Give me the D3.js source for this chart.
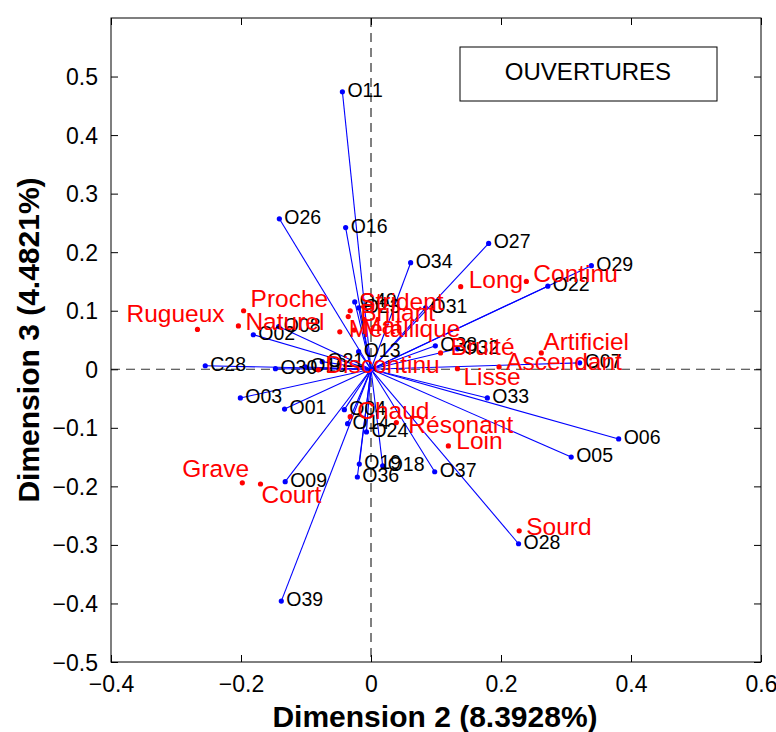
<!DOCTYPE html>
<html><head><meta charset="utf-8">
<script src="https://cdn.jsdelivr.net/npm/d3@7"></script>
<style>body{margin:0;background:#fff}svg{display:block;font-family:"Liberation Sans",Arial,Helvetica,sans-serif}</style>
</head><body><div id="chart"></div>
<script>
// Observations (blue points, joined to origin)
const objNames = ["O11","O26","O16","O34","O27","O29","O22","O40","O23","O31","O02","O08","C28","O30","O10","O21","O13","O38","O32","O07","O33","O06","O05","O28","O37","O18","O19","O36","O24","O14","O04","O01","O03","O09","O39"];
const objDim2 = [-0.044,-0.141,-0.039,0.061,0.181,0.339,0.272,-0.025,-0.019,0.084,-0.181,-0.142,-0.255,-0.147,-0.101,-0.075,-0.019,0.099,0.133,0.321,0.179,0.381,0.308,0.227,0.098,0.018,-0.018,-0.021,-0.007,-0.036,-0.041,-0.133,-0.201,-0.132,-0.138];
const objDim3 = [0.474,0.257,0.242,0.182,0.215,0.177,0.142,0.115,0.105,0.105,0.059,0.073,0.006,0.001,0.004,0.013,0.030,0.040,0.035,0.011,-0.049,-0.119,-0.150,-0.298,-0.175,-0.165,-0.162,-0.184,-0.107,-0.093,-0.069,-0.068,-0.049,-0.192,-0.396];

// Descriptors (red points)
const descNames = ["Rugueux","Proche","Naturel","Strident","Brillant","Mat","Métallique","Long","Continu","Bruité","Artificiel","Ascendant","Lisse","Discontinu","Chaud","Résonant","Loin","Grave","Court","Sourd"];
const descDim2 = [-0.267,-0.196,-0.204,-0.032,-0.035,-0.026,-0.048,0.138,0.239,0.107,0.262,0.197,0.133,-0.081,-0.032,0.039,0.119,-0.198,-0.170,0.228];
const descDim3 = [0.068,0.100,0.074,0.100,0.090,0.067,0.064,0.141,0.150,0.028,0.028,0.004,0.001,-0.001,-0.081,-0.091,-0.131,-0.194,-0.196,-0.276];

const xTicks = [-0.4,-0.2,0,0.2,0.4,0.6];
const yTicks = [-0.5,-0.4,-0.3,-0.2,-0.1,0,0.1,0.2,0.3,0.4,0.5];
const xTitle = "Dimension 2 (8.3928%)";
const yTitle = "Dimension 3 (4.4821%)";
const legendText = "OUVERTURES";

// label layout offsets (px) for red descriptor labels
const descLabelOffset = {
  "Rugueux":[-71,-7],"Proche":[7,-4],"Naturel":[7,4],"Strident":[9,-1],"Brillant":[12,4],
  "Mat":[7,4],"Métallique":[9,5],"Long":[8,1],"Continu":[7,1],"Bruité":[10,2],
  "Artificiel":[2,-3],"Ascendant":[7,3],"Lisse":[6,16],"Discontinu":[7,3],"Chaud":[7,2],
  "Résonant":[12,10],"Loin":[8,3],"Grave":[-60,-6],"Court":[1,19],"Sourd":[7,4]
};

const W = 776, H = 732;
const L = 111, R = 761, T = 18, B = 662;
const svg = d3.select("#chart").append("svg").attr("width",W).attr("height",H);
const x = d3.scaleLinear().domain([-0.4,0.6]).range([L,R]);
const y = d3.scaleLinear().domain([-0.5,0.6]).range([B,T]);
const fmt = d => d3.format(".1f")(d).replace("-","−");
const fmtT = d => d === 0 ? "0" : fmt(d);

// dashed zero lines
svg.append("line").attr("x1",x(0)).attr("x2",x(0)).attr("y1",T).attr("y2",B)
  .attr("stroke","#000").attr("stroke-dasharray","9,6").attr("stroke-width",1);
svg.append("line").attr("x1",L).attr("x2",R).attr("y1",y(0)).attr("y2",y(0))
  .attr("stroke","#333").attr("stroke-dasharray","9,6").attr("stroke-width",1.2);

// axes
const tl = 7;
const ax = svg.append("g").attr("transform",`translate(0,${B})`)
  .call(d3.axisBottom(x).tickValues(xTicks).tickSizeInner(-tl).tickSizeOuter(0).tickPadding(14).tickFormat(fmtT));
const axT = svg.append("g").attr("transform",`translate(0,${T})`)
  .call(d3.axisTop(x).tickValues(xTicks).tickSizeInner(-tl).tickSizeOuter(0).tickFormat(""));
const ay = svg.append("g").attr("transform",`translate(${L},0)`)
  .call(d3.axisLeft(y).tickValues(yTicks).tickSizeInner(-tl).tickSizeOuter(0).tickPadding(13).tickFormat(fmtT));
const ayR = svg.append("g").attr("transform",`translate(${R},0)`)
  .call(d3.axisRight(y).tickValues(yTicks).tickSizeInner(-tl).tickSizeOuter(0).tickFormat(""));
[ax,axT,ay,ayR].forEach(g=>{g.select(".domain").remove();g.selectAll("line").attr("stroke","#000");});
ax.selectAll("text").attr("font-size",23).attr("fill","#000").attr("font-family","Liberation Sans, Arial");
ay.selectAll("text").attr("font-size",23).attr("fill","#000").attr("font-family","Liberation Sans, Arial").attr("dy","0.35em");
svg.append("rect").attr("x",L).attr("y",T).attr("width",R-L).attr("height",B-T)
  .attr("fill","none").attr("stroke","#000").attr("stroke-width",1);

// objects
const objs = objNames.map((n,i)=>({n, a:objDim2[i], b:objDim3[i]}));
svg.append("g").selectAll("line").data(objs).join("line")
  .attr("x1",x(0)).attr("y1",y(0)).attr("x2",d=>x(d.a)).attr("y2",d=>y(d.b))
  .attr("stroke","#0000ff").attr("stroke-width",1.1);
svg.append("g").selectAll("circle").data(objs).join("circle")
  .attr("cx",d=>x(d.a)).attr("cy",d=>y(d.b)).attr("r",2.6).attr("fill","#0000ff");
svg.append("g").selectAll("text").data(objs).join("text")
  .attr("x",d=>x(d.a)+5).attr("y",d=>y(d.b)+5).text(d=>d.n)
  .attr("font-size",19.5).attr("fill","#000");

// descriptors
const descs = descNames.map((n,i)=>({n, a:descDim2[i], b:descDim3[i]}));
svg.append("g").selectAll("circle").data(descs).join("circle")
  .attr("cx",d=>x(d.a)).attr("cy",d=>y(d.b)).attr("r",2.6).attr("fill","#ff0000");
svg.append("g").selectAll("text").data(descs).join("text")
  .attr("x",d=>x(d.a)+descLabelOffset[d.n][0]).attr("y",d=>y(d.b)+descLabelOffset[d.n][1])
  .text(d=>d.n).attr("font-size",24.5).attr("fill","#ff0000");

// legend box
svg.append("rect").attr("x",460).attr("y",47).attr("width",257).attr("height",54)
  .attr("fill","#fff").attr("stroke","#000").attr("stroke-width",1);
svg.append("text").attr("x",588).attr("y",72).attr("text-anchor","middle").attr("dy","0.35em")
  .attr("font-size",24).text(legendText);

// titles
svg.append("text").attr("x",435).attr("y",727).attr("text-anchor","middle")
  .attr("font-size",30).attr("font-weight","bold").text(xTitle);
svg.append("text").attr("transform","translate(39,340) rotate(-90)").attr("text-anchor","middle")
  .attr("font-size",30).attr("font-weight","bold").text(yTitle);
</script></body></html>
